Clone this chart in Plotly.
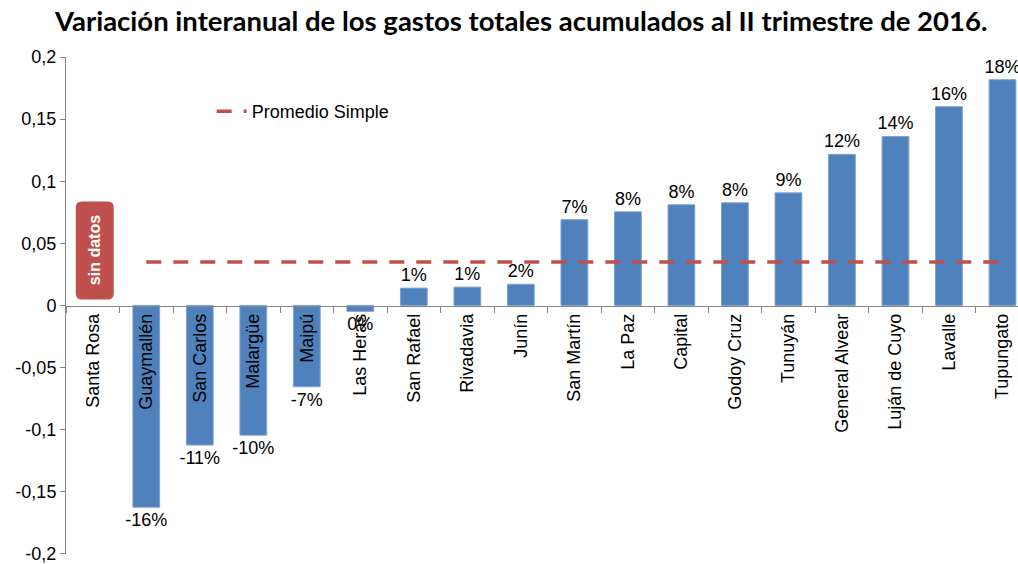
import plotly.graph_objects as go

# Departamentos de Mendoza, ordenados por variación
departamentos = [
    "Santa Rosa", "Guaymallén", "San Carlos", "Malargüe", "Maipú", "Las Heras",
    "San Rafael", "Rivadavia", "Junín", "San Martín", "La Paz", "Capital",
    "Godoy Cruz", "Tunuyán", "General Alvear", "Luján de Cuyo", "Lavalle", "Tupungato",
]
# Variación interanual (fracción); Santa Rosa sin datos
variacion = [
    None, -0.1625, -0.1125, -0.1045, -0.0655, -0.0048,
    0.0139, 0.0147, 0.0170, 0.0690, 0.0753, 0.0810,
    0.0826, 0.0906, 0.1216, 0.1360, 0.1600, 0.1817,
]
y_ticks = [-0.2, -0.15, -0.1, -0.05, 0, 0.05, 0.1, 0.15, 0.2]
y_tick_labels = ["-0,2", "-0,15", "-0,1", "-0,05", "0", "0,05", "0,1", "0,15", "0,2"]

con_datos = [(d, v) for d, v in zip(departamentos, variacion) if v is not None]
promedio = sum(v for _, v in con_datos) / len(con_datos)

etiquetas = ["" if v is None else f"{round(v * 100):d}%" for v in variacion]

FONT = "Liberation Sans, Arial, sans-serif"
AZUL = "#4F81BD"
ROJO = "#C0504D"
GRIS = "#868686"

fig = go.Figure()

fig.add_trace(go.Bar(
    x=departamentos,
    y=variacion,
    text=etiquetas,
    textposition="outside",
    constraintext="none",
    textfont=dict(family=FONT, size=18, color="black"),
    marker=dict(color=AZUL, line=dict(color="#7EA2CF", width=1)),
    width=0.5,
    cliponaxis=False,
    showlegend=False,
    hoverinfo="skip",
))

# Línea del promedio simple, de Guaymallén a Tupungato
fig.add_trace(go.Scatter(
    x=[con_datos[0][0], con_datos[-1][0]],
    y=[promedio, promedio],
    mode="lines",
    line=dict(color=ROJO, width=3.5, dash="15px,12px"),
    name="Promedio Simple",
    showlegend=True,
    hoverinfo="skip",
))

# Recuadro redondeado "sin datos" sobre Santa Rosa
r = 6
x0, x1, y0, y1 = -17, 21, 6, 104
path = (
    f"M {x0 + r},{y0} L {x1 - r},{y0} Q {x1},{y0} {x1},{y0 + r} "
    f"L {x1},{y1 - r} Q {x1},{y1} {x1 - r},{y1} "
    f"L {x0 + r},{y1} Q {x0},{y1} {x0},{y1 - r} "
    f"L {x0},{y0 + r} Q {x0},{y0} {x0 + r},{y0} Z"
)
fig.add_shape(
    type="path", path=path,
    xref="x", yref="y", xsizemode="pixel", ysizemode="pixel",
    xanchor=departamentos[0], yanchor=0,
    fillcolor=ROJO, line=dict(width=0), layer="above",
)
fig.add_annotation(
    x=departamentos[0], y=0, yref="y", xref="x",
    xshift=2, yshift=55,
    text="<b>sin datos</b>", textangle=-90, showarrow=False,
    font=dict(family=FONT, size=16, color="white"),
)

fig.update_layout(
    width=1018, height=564,
    margin=dict(l=66, r=0, t=57, b=8),
    paper_bgcolor="white", plot_bgcolor="white",
    separators=",.",
    title=dict(
        text="<b>Variación interanual de los gastos totales acumulados al II trimestre de 2016.</b>",
        x=0.512, xanchor="center", y=0.962, yanchor="middle",
        font=dict(family="Lato, sans-serif", size=27.5, color="black"),
    ),
    legend=dict(
        x=0.153, y=0.89, xanchor="left", yanchor="middle",
        bgcolor="rgba(0,0,0,0)",
        font=dict(family=FONT, size=18, color="black"),
    ),
    xaxis=dict(
        type="category",
        range=[-0.5, 17.29],
        anchor="free", position=0.5,
        showline=True, linecolor=GRIS, linewidth=1,
        ticks="outside", ticklen=6, tickcolor=GRIS, tickson="boundaries",
        tickangle=-90,
        tickfont=dict(family=FONT, size=18, color="black"),
        showgrid=False, zeroline=False,
    ),
    yaxis=dict(
        range=[-0.2002, 0.2],
        tickvals=y_ticks, ticktext=y_tick_labels,
        ticklabeloverflow="allow",
        showline=True, linecolor=GRIS, linewidth=1,
        ticks="outside", ticklen=5, tickcolor=GRIS,
        tickfont=dict(family=FONT, size=18, color="black"),
        showgrid=False, zeroline=False,
    ),
)

fig.write_html("out.html")
